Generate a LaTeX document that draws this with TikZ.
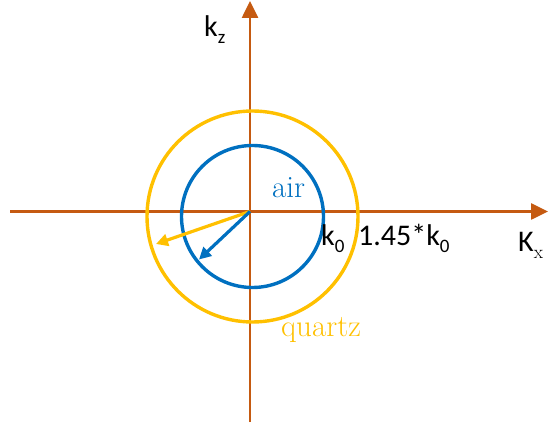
\documentclass[tikz,border=0pt]{standalone}
\usepackage{fontspec}
\setmainfont{Carlito}
\newfontfamily\serif{Latin Modern Roman}
\usetikzlibrary{arrows.meta}
\definecolor{axisor}{HTML}{C55A11}
\definecolor{airblue}{HTML}{0070C0}
\definecolor{qyellow}{HTML}{FFC000}
\begin{document}
\begin{tikzpicture}[x=1pt,y=-1pt,
  axisline/.style={draw=axisor,line width=2.6pt,-{Triangle[length=17pt,width=16pt]}},
  circ/.style={line width=3.4pt},
  vec/.style={line width=3.2pt,-{Triangle[length=12pt,width=12pt]}},
  lbl/.style={inner sep=0pt,font=\fontsize{30}{34}\selectfont},
  slbl/.style={inner sep=0pt,font=\serif\fontsize{31}{34}\selectfont}]
\useasboundingbox (0,0) rectangle (548,427);
\coordinate (O) at (250,211.5);
\coordinate (C) at (252.5,216.5);
\coordinate (xl) at (10,211.5);
\coordinate (xr) at (548,211.5);
\coordinate (zb) at (250,422);
\coordinate (zt) at (250,1);
\draw[axisline] (xl) -- (xr);
\draw[axisline] (zb) -- (zt);
\draw[circ,draw=qyellow] (C) circle (105.5);
\draw[circ,draw=airblue] (C) circle (71);
\coordinate (ya) at (156,244);
\coordinate (ba) at (199,259.5);
\draw[vec,draw=qyellow,fill=qyellow] (O) -- (ya);
\draw[vec,draw=airblue,fill=airblue] (O) -- (ba);
\newcommand{\subs}[1]{\raisebox{-0.22em}{\fontsize{19}{20}\selectfont #1}}
\node[lbl,anchor=base west] (kz) at (204,37) {k\subs{z}};
\node[slbl,anchor=base west,text=airblue] (air) at (272,198) {air};
\node[lbl,anchor=base west] (k0) at (321,246) {k\subs{0}};
\node[lbl,anchor=base west] (k1) at (358,246) {1.45*k\subs{0}};
\node[lbl,anchor=base west] (kx) at (518,252) {K\subs{\serif x}};
\node[slbl,anchor=base west,text=qyellow] (qz) at (281,336) {quartz};
\end{tikzpicture}
\end{document}
